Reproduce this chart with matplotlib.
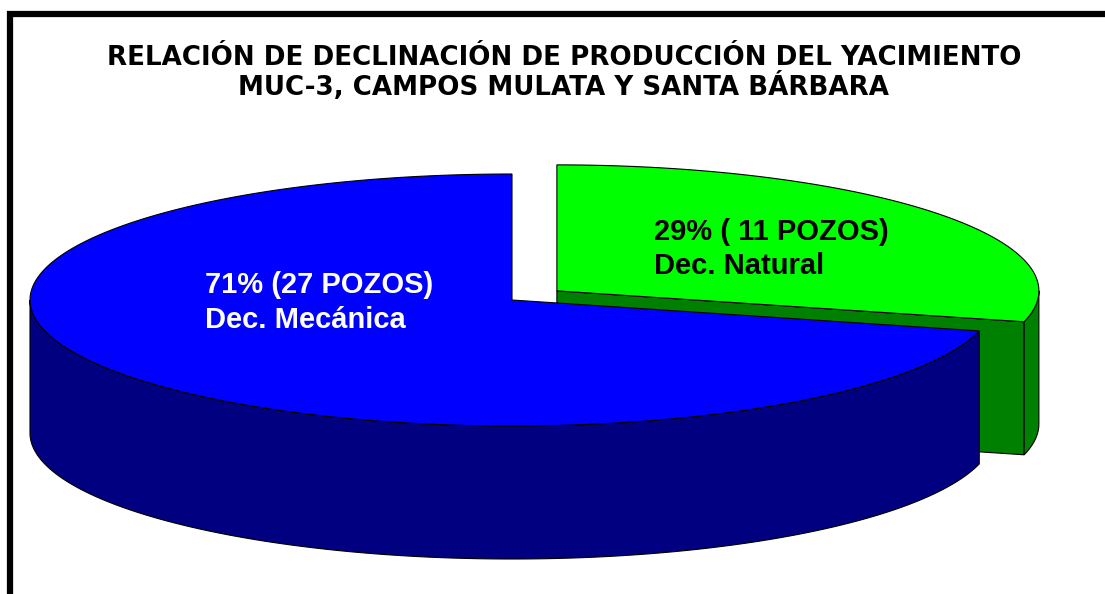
import numpy as np
import matplotlib.pyplot as plt
from matplotlib.patches import Polygon

# Datos del grafico
titulo = ['RELACIÓN DE DECLINACIÓN DE PRODUCCIÓN DEL YACIMIENTO',
          'MUC-3, CAMPOS MULATA Y SANTA BÁRBARA']
etiquetas = ['Dec. Mecánica', 'Dec. Natural']
pozos = [27, 11]
porcentajes = [71, 29]
colores_sup = ['#0000FF', '#00FF00']
colores_lado = ['#000080', '#008000']
colores_texto = ['white', 'black']
separacion = [0.0, 0.118]

# Geometria de la torta 3D (en pixeles)
cx, cy = 512, 300
a, b = 482, 126
prof = 133
pos_texto = [(205, 293), (654, 240)]


def punto(t, dx, dy, z=0):
    r = np.radians(t)
    return cx + dx + a * np.cos(r), cy + dy - b * np.sin(r) + z


def arco(t0, t1, dx, dy, z=0, n=200):
    ts = np.linspace(t0, t1, n)
    return [punto(t, dx, dy, z) for t in ts]


fig = plt.figure(figsize=(11.05, 5.94), dpi=100)
ax = fig.add_axes([0, 0, 1, 1])
ax.set_xlim(0, 1105)
ax.set_ylim(594, 0)
ax.axis('off')

total = sum(pozos)
rebanadas = []
inicio = 90.0
for i, v in enumerate(pozos):
    ang = 360.0 * v / total
    t0, t1 = inicio, inicio + ang
    medio = np.radians((t0 + t1) / 2)
    dx = separacion[i] * a * np.cos(medio)
    dy = -separacion[i] * b * np.sin(medio)
    rebanadas.append((i, t0, t1, dx, dy, np.sin(medio)))
    inicio = t1

# primero las rebanadas de atras
rebanadas.sort(key=lambda r: -r[5])

for i, t0, t1, dx, dy, _ in rebanadas:
    centro = (cx + dx, cy + dy)
    centro_b = (cx + dx, cy + dy + prof)
    kw = dict(edgecolor='black', linewidth=0.8, joinstyle='miter')
    # caras radiales visibles
    if np.cos(np.radians(t0)) > 1e-6:
        p = punto(t0, dx, dy)
        ax.add_patch(Polygon([centro, p, (p[0], p[1] + prof), centro_b],
                             facecolor=colores_lado[i], **kw))
    if np.cos(np.radians(t1)) < -1e-6:
        p = punto(t1, dx, dy)
        ax.add_patch(Polygon([centro, p, (p[0], p[1] + prof), centro_b],
                             facecolor=colores_lado[i], **kw))
    # lado exterior (parte frontal, 180-360)
    for k in range(-1, 2):
        s0 = max(t0, 180 + 360 * k)
        s1 = min(t1, 360 + 360 * k)
        if s1 > s0:
            sup = arco(s0, s1, dx, dy)
            inf = arco(s1, s0, dx, dy, prof)
            ax.add_patch(Polygon(sup + inf, facecolor=colores_lado[i], **kw))
    # cara superior
    ax.add_patch(Polygon([centro] + arco(t0, t1, dx, dy),
                         facecolor=colores_sup[i], **kw))

for i in range(len(pozos)):
    x, y = pos_texto[i]
    espacio = ' ' if pozos[i] < 20 else ''
    lineas = [f'{porcentajes[i]}% ({espacio}{pozos[i]} POZOS)', etiquetas[i]]
    for j, linea in enumerate(lineas):
        ax.text(x, y + 34.5 * j, linea, color=colores_texto[i], fontsize=21,
                fontweight='bold', family='Liberation Sans',
                ha='left', va='baseline')

for j, linea in enumerate(titulo):
    ax.text(564, 65 + 30 * j, linea, ha='center', va='baseline', fontsize=18.8,
            fontweight='bold', family='DejaVu Sans')

# marco
ax.plot([10, 10, 1105], [594, 14, 14], color='black', linewidth=4.5,
        solid_joinstyle='miter')

fig.savefig('out.png', dpi=100)
